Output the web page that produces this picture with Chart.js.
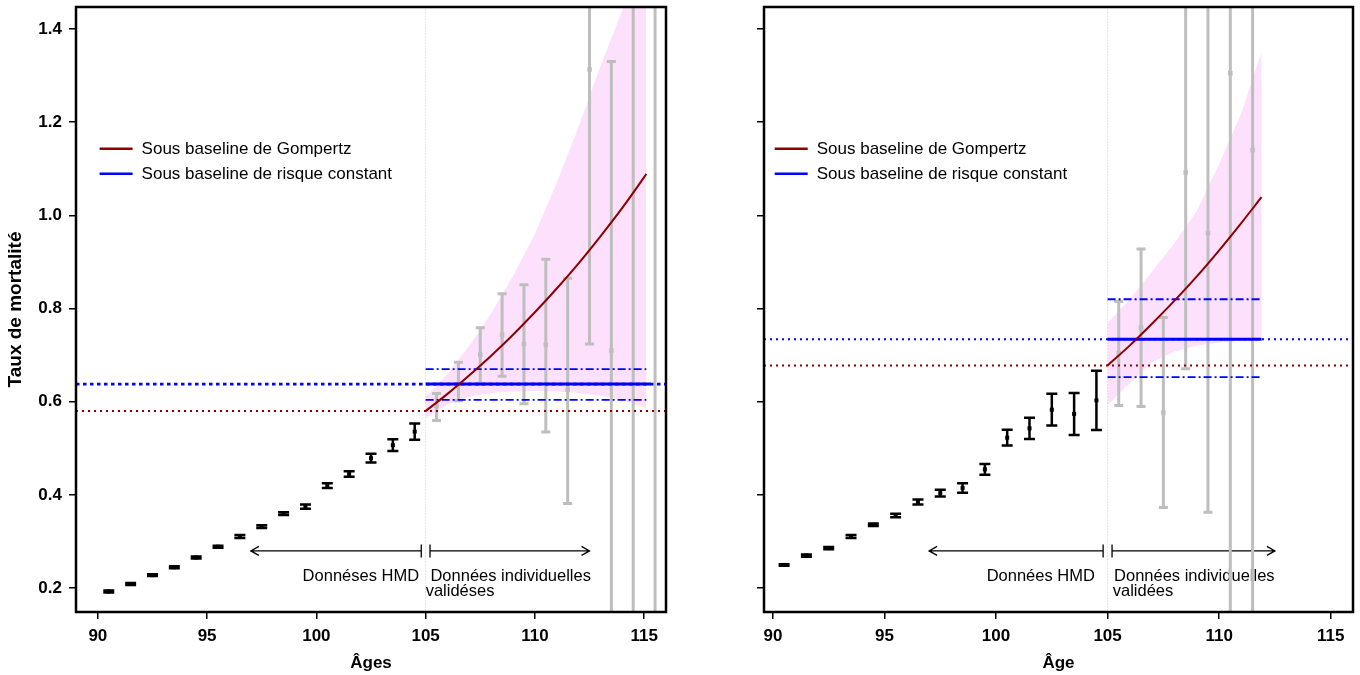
<!DOCTYPE html>
<html>
<head>
<meta charset="utf-8">
<script src="https://cdn.jsdelivr.net/npm/chart.js@4.4.0/dist/chart.umd.min.js"></script>
<style>
  html, body { margin: 0; padding: 0; background: #fff; }
  #wrap { position: relative; width: 1360px; height: 675px; }
  .panel { position: absolute; top: 0; width: 680px; height: 675px; }
  #left { left: 0; }
  #right { left: 680px; }
</style>
</head>
<body>
<div id="wrap">
  <div class="panel" id="left"><canvas id="c1" width="680" height="675"></canvas></div>
  <div class="panel" id="right"><canvas id="c2" width="680" height="675"></canvas></div>
</div>
<script>
// ---- shared ----
const ticksX = [90, 95, 100, 105, 110, 115];
const ticksY = [0.2, 0.4, 0.6, 0.8, 1.0, 1.2, 1.4];
const yRange = [0.149, 1.447];
const splitAge = 105;
const legendLabels = ['Sous baseline de Gompertz', 'Sous baseline de risque constant'];
const hmdAges = [90.5, 91.5, 92.5, 93.5, 94.5, 95.5, 96.5, 97.5, 98.5, 99.5, 100.5, 101.5, 102.5, 103.5, 104.5];

// ---- left panel (Âges) ----
const xRangeL = [89, 116];
const hmdRateL = [0.193, 0.209, 0.228, 0.245, 0.266, 0.289, 0.311, 0.332, 0.360, 0.375, 0.420, 0.445, 0.479, 0.507, 0.536];
const hmdErrL  = [0.002, 0.002, 0.002, 0.002, 0.002, 0.002, 0.003, 0.003, 0.003, 0.0045, 0.005, 0.006, 0.0095, 0.0127, 0.0174];
const indAgesL = [105.5, 106.5, 107.5, 108.5, 109.5, 110.5, 111.5, 112.5, 113.5, 114.5, 115.5];
const indRateL = [0.591, 0.638, 0.701, 0.744, 0.724, 0.722, 0.626, 1.313, 0.710, 1.60, 1.70];
const indLowL  = [0.560, 0.602, 0.638, 0.655, 0.596, 0.535, 0.382, 0.724, 0.09, -0.2, -0.3];
const indHighL = [0.618, 0.685, 0.759, 0.832, 0.851, 0.906, 0.865, 1.90, 1.33, 3.5, 3.8];
const gompAgesL = [105, 106, 107, 108, 109, 110, 111, 112, 113, 114, 115, 115.1];
const gompL     = [0.580, 0.617, 0.657, 0.699, 0.744, 0.792, 0.843, 0.897, 0.955, 1.016, 1.082, 1.089];
const gompLowL  = [0.565, 0.594, 0.611, 0.619, 0.622, 0.623, 0.622, 0.619, 0.613, 0.604, 0.588, 0.586];
const gompHighL = [0.61, 0.66, 0.72, 0.79, 0.87, 0.96, 1.07, 1.19, 1.32, 1.44, 1.60, 1.62];
const constL = [0.604, 0.638, 0.670];   // low, estimate, high
const constEndL = [115.3, 115.1];       // solid line end, CI end
const refGompL = 0.580;

// ---- right panel (Âge) ----
const xRangeR = [89.6, 116];
const hmdRateR = [0.250, 0.270, 0.286, 0.311, 0.336, 0.356, 0.385, 0.404, 0.415, 0.455, 0.523, 0.543, 0.583, 0.574, 0.603];
const hmdErrR  = [0.0016, 0.0023, 0.0023, 0.003, 0.0027, 0.0038, 0.0056, 0.0073, 0.010, 0.0113, 0.017, 0.023, 0.034, 0.045, 0.0635];
const indAgesR = [105.5, 106.5, 107.5, 108.5, 109.5, 110.5, 111.5];
const indRateR = [0.704, 0.759, 0.577, 1.092, 0.962, 1.305, 1.14];
const indLowR  = [0.592, 0.590, 0.373, 0.671, 0.363, -0.2, -0.2];
const indHighR = [0.815, 0.928, 0.781, 1.51, 1.56, 2.6, 2.3];
const gompAgesR = [105, 106, 107, 108, 109, 110, 111, 111.9];
const gompR     = [0.678, 0.721, 0.768, 0.817, 0.869, 0.925, 0.984, 1.039];
const gompLowR  = [0.593, 0.640, 0.685, 0.708, 0.720, 0.727, 0.731, 0.733];
const gompHighR = [0.769, 0.820, 0.880, 0.940, 1.010, 1.110, 1.220, 1.350];
const constR = [0.653, 0.734, 0.820];
const constEndR = [111.9, 111.9];
const refGompR = 0.678;

const FONT = "'Liberation Sans', Arial, sans-serif";
const DARKRED = '#8b0000';
const BLUE = '#0000ff';
const GREY = '#bebebe';
const PINK = 'rgb(253, 224, 251)';

function xy(xs, ys) { return xs.map((x, i) => ({ x: x, y: ys[i] })); }
function hline(x0, x1, v) { return [{ x: x0, y: v }, { x: x1, y: v }]; }

// error bars drawn right after their own dataset
const errorBars = {
    id: 'errorBars',
    afterDatasetDraw(chart, args) {
        const ds = chart.data.datasets[args.index];
        if (!ds.errLow) return;
        const { ctx, chartArea: a, scales: { x, y } } = chart;
        ctx.save();
        ctx.beginPath();
        ctx.rect(a.left, a.top, a.right - a.left, a.bottom - a.top);
        ctx.clip();
        ctx.strokeStyle = ds.borderColor;
        ctx.lineWidth = ds.errWidth;
        ds.data.forEach((p, i) => {
            const px = x.getPixelForValue(p.x);
            const lo = y.getPixelForValue(ds.errLow[i]);
            const hi = y.getPixelForValue(ds.errHigh[i]);
            const c = ds.capHalf;
            ctx.beginPath();
            ctx.moveTo(px, lo); ctx.lineTo(px, hi);
            ctx.moveTo(px - c, lo); ctx.lineTo(px + c, lo);
            ctx.moveTo(px - c, hi); ctx.lineTo(px + c, hi);
            ctx.stroke();
            // centre point on top of the whisker
            ctx.fillStyle = ds.borderColor;
            ctx.fillRect(px - ds.dot, y.getPixelForValue(p.y) - ds.dot, ds.dot * 2, ds.dot * 2);
        });
        ctx.restore();
    }
};

// arrows + texts under the data, legend and box on top
const decorations = {
    id: 'decorations',
    beforeDatasetsDraw(chart, args, opts) {
        const { ctx, scales: { x, y } } = chart;
        const ay = y.getPixelForValue(opts.arrowY);
        ctx.save();
        ctx.strokeStyle = '#000';
        ctx.lineWidth = 1.3;
        const l0 = x.getPixelForValue(opts.arrowL[0]), l1 = x.getPixelForValue(opts.arrowL[1]);
        const r0 = x.getPixelForValue(opts.arrowR[0]), r1 = x.getPixelForValue(opts.arrowR[1]);
        ctx.beginPath();
        ctx.moveTo(l0, ay); ctx.lineTo(l1, ay);
        ctx.moveTo(l0 + 8, ay - 4.5); ctx.lineTo(l0, ay); ctx.lineTo(l0 + 8, ay + 4.5);
        ctx.moveTo(l1, ay - 6.5); ctx.lineTo(l1, ay + 6.5);
        ctx.moveTo(r0, ay); ctx.lineTo(r1, ay);
        ctx.moveTo(r1 - 8, ay - 4.5); ctx.lineTo(r1, ay); ctx.lineTo(r1 - 8, ay + 4.5);
        ctx.moveTo(r0, ay - 6.5); ctx.lineTo(r0, ay + 6.5);
        ctx.stroke();
        ctx.fillStyle = '#000';
        ctx.font = '16.5px ' + FONT;
        ctx.textBaseline = 'middle';
        opts.texts.forEach(t => {
            ctx.textAlign = t.align;
            ctx.fillText(t.text, x.getPixelForValue(t.x), y.getPixelForValue(t.y));
        });
        ctx.restore();
    },
    afterDatasetsDraw(chart, args, opts) {
        const { ctx, chartArea: a, scales: { x, y } } = chart;
        ctx.save();
        // legend
        const lx = x.getPixelForValue(opts.legendAt[0]);
        let ly = y.getPixelForValue(opts.legendAt[1]);
        ctx.font = '17px ' + FONT;
        ctx.textAlign = 'left';
        ctx.textBaseline = 'middle';
        legendLabels.forEach((lab, i) => {
            ctx.strokeStyle = [DARKRED, BLUE][i];
            ctx.lineWidth = 2.5;
            ctx.beginPath();
            ctx.moveTo(lx, ly); ctx.lineTo(lx + 33, ly);
            ctx.stroke();
            ctx.fillStyle = '#000';
            ctx.fillText(lab, lx + 42, ly + 1);
            ly += 25;
        });
        // box
        ctx.strokeStyle = '#000';
        ctx.lineWidth = 2.5;
        ctx.strokeRect(a.left, a.top, a.right - a.left, a.bottom - a.top);
        ctx.restore();
    }
};

function makePanel(id, p) {
    const datasets = [
        { type: 'line', data: xy(p.gompAges, p.gompLow), borderWidth: 0, pointRadius: 0, fill: false, order: 20 },
        { type: 'line', data: xy(p.gompAges, p.gompHigh), borderWidth: 0, pointRadius: 0, fill: '-1', backgroundColor: PINK, order: 19 },
        { type: 'line', data: [{ x: splitAge, y: -1 }, { x: splitAge, y: 3 }], borderColor: '#c8c8c8', borderWidth: 1, borderDash: [1, 2], pointRadius: 0, order: 18 },
        { type: 'scatter', data: xy(p.indAges, p.indRate), backgroundColor: GREY, borderColor: GREY, pointRadius: 0, borderWidth: 0,
          errLow: p.indLow, errHigh: p.indHigh, errWidth: 3, capHalf: 4.5, dot: 2.3, order: 10 },
        { type: 'line', data: hline(p.xRange[0], p.xRange[1], p.refGomp), borderColor: DARKRED, borderWidth: 2, borderDash: [2, 4], pointRadius: 0, order: 9 },
        { type: 'line', data: hline(p.xRange[0], p.xRange[1], p.constv[1]), borderColor: BLUE, borderWidth: p.blueDotW, borderDash: p.blueDash, pointRadius: 0, order: 8 },
        { type: 'line', data: hline(splitAge, p.constEnd[1], p.constv[2]), borderColor: BLUE, borderWidth: 1.8, borderDash: [8, 3, 2, 3], pointRadius: 0, order: 7 },
        { type: 'line', data: hline(splitAge, p.constEnd[1], p.constv[0]), borderColor: BLUE, borderWidth: 1.8, borderDash: [8, 3, 2, 3], pointRadius: 0, order: 7 },
        { type: 'line', data: hline(splitAge, p.constEnd[0], p.constv[1]), borderColor: BLUE, borderWidth: 3, pointRadius: 0, order: 6 },
        { type: 'line', data: xy(p.gompAges, p.gomp), borderColor: DARKRED, borderWidth: 2, pointRadius: 0, cubicInterpolationMode: 'monotone', order: 5 },
        { type: 'scatter', data: xy(hmdAges, p.hmdRate), backgroundColor: '#000', borderColor: '#000', pointRadius: 0, borderWidth: 0,
          errLow: p.hmdRate.map((v, i) => v - p.hmdErr[i]), errHigh: p.hmdRate.map((v, i) => v + p.hmdErr[i]),
          errWidth: 2.5, capHalf: 5.5, dot: 2, order: 1 }
    ];

    const tickFont = { family: FONT, size: 17, weight: 'bold' };
    new Chart(document.getElementById(id), {
        type: 'scatter',
        data: { datasets: datasets },
        options: {
            responsive: false,
            animation: false,
            layout: { padding: { top: 7, right: p.padRight, left: 0, bottom: 0 } },
            plugins: {
                legend: { display: false },
                tooltip: { enabled: false },
                decorations: p.deco
            },
            scales: {
                x: {
                    type: 'linear', min: p.xRange[0], max: p.xRange[1],
                    afterBuildTicks: s => { s.ticks = ticksX.map(v => ({ value: v })); },
                    afterFit: s => { s.height = 63; s.paddingLeft = 0; s.paddingRight = 0; },
                    grid: { drawOnChartArea: false, drawTicks: true, tickLength: 7, color: '#000', lineWidth: 1.5 },
                    border: { display: false },
                    ticks: { color: '#000', font: tickFont, padding: 7, maxRotation: 0 },
                    title: { display: true, text: p.xTitle, color: '#000', font: tickFont, padding: { top: 0, bottom: 1 } }
                },
                y: {
                    type: 'linear', min: yRange[0], max: yRange[1],
                    afterBuildTicks: s => { s.ticks = ticksY.map(v => ({ value: v })); },
                    afterFit: s => { s.width = p.yAxisW; s.paddingTop = 0; s.paddingBottom = 0; },
                    grid: { drawOnChartArea: false, drawTicks: true, tickLength: 7, color: '#000', lineWidth: 1.5 },
                    border: { display: false },
                    ticks: { color: '#000', font: tickFont, padding: 7, callback: v => p.showY ? v.toFixed(1) : '' },
                    title: { display: p.showY, text: 'Taux de mortalité', color: '#000',
                             font: { family: FONT, size: 19, weight: 'bold' }, padding: { top: 4, bottom: 0 } }
                }
            }
        },
        plugins: [errorBars, decorations]
    });
}

makePanel('c1', {
    xRange: xRangeL, hmdRate: hmdRateL, hmdErr: hmdErrL,
    indAges: indAgesL, indRate: indRateL, indLow: indLowL, indHigh: indHighL,
    gompAges: gompAgesL, gomp: gompL, gompLow: gompLowL, gompHigh: gompHighL,
    constv: constL, constEnd: constEndL, refGomp: refGompL,
    blueDotW: 2.8, blueDash: [3.5, 3.5],
    padRight: 14, yAxisW: 76, showY: true, xTitle: 'Âges',
    deco: {
        arrowY: 0.28, arrowL: [97.0, 104.8], arrowR: [105.2, 112.5], legendAt: [90.08, 1.143],
        texts: [
            { text: 'Donnéses HMD', x: 104.7, y: 0.225, align: 'right' },
            { text: 'Données individuelles', x: 105.22, y: 0.225, align: 'left' },
            { text: 'validéses', x: 105.0, y: 0.194, align: 'left' }
        ]
    }
});

makePanel('c2', {
    xRange: xRangeR, hmdRate: hmdRateR, hmdErr: hmdErrR,
    indAges: indAgesR, indRate: indRateR, indLow: indLowR, indHigh: indHighR,
    gompAges: gompAgesR, gomp: gompR, gompLow: gompLowR, gompHigh: gompHighR,
    constv: constR, constEnd: constEndR, refGomp: refGompR,
    blueDotW: 2, blueDash: [2, 4],
    padRight: 7, yAxisW: 84, showY: false, xTitle: 'Âge',
    deco: {
        arrowY: 0.28, arrowL: [97.0, 104.8], arrowR: [105.2, 112.5], legendAt: [90.08, 1.143],
        texts: [
            { text: 'Données HMD', x: 104.43, y: 0.225, align: 'right' },
            { text: 'Données individuelles', x: 105.29, y: 0.225, align: 'left' },
            { text: 'validées', x: 105.23, y: 0.194, align: 'left' }
        ]
    }
});
</script>
</body>
</html>
